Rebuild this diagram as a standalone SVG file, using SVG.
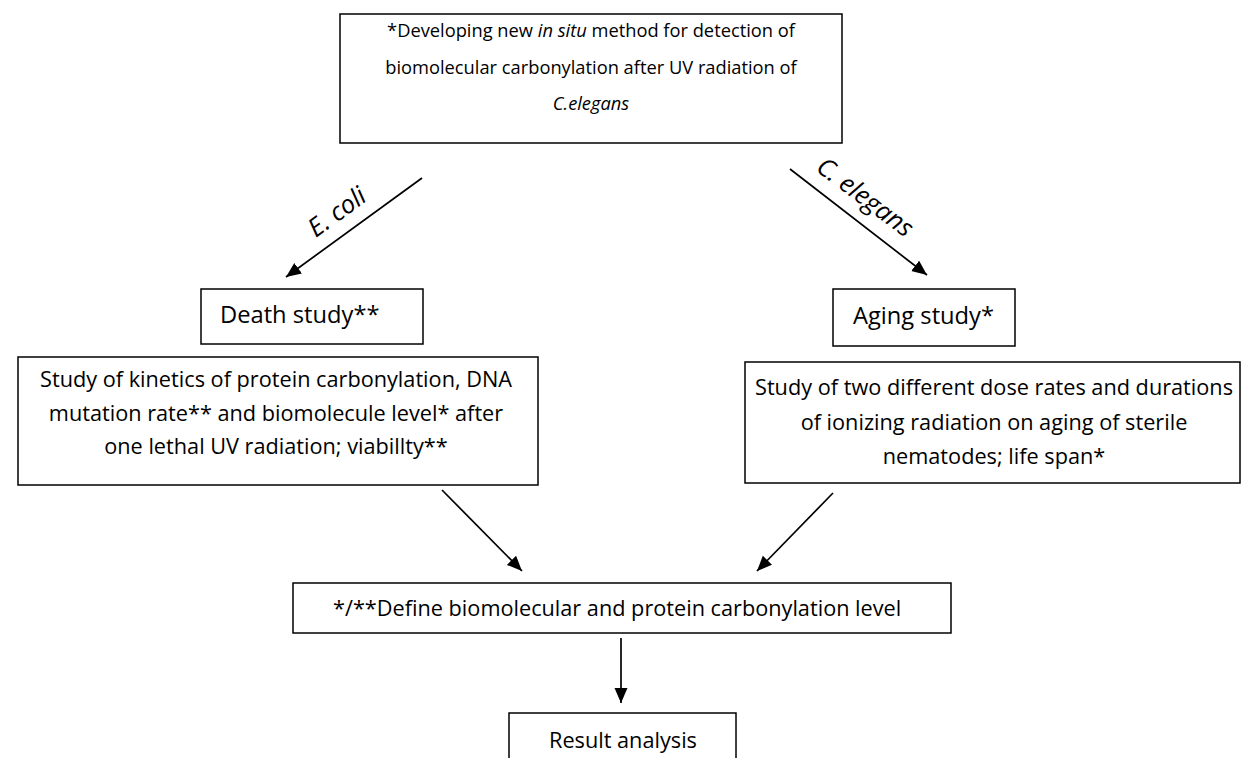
<svg xmlns="http://www.w3.org/2000/svg" width="1252" height="758" viewBox="0 0 1252 758">
<defs>
<style>
.box{fill:#fff;stroke:#000;stroke-width:1.5}
.t{font-family:"Open Sans","Liberation Sans",sans-serif;font-size:21.7px;fill:#000}
.th{font-family:"Open Sans","Liberation Sans",sans-serif;font-size:23.7px;fill:#000}
.tt{font-family:"Open Sans","Liberation Sans",sans-serif;font-size:18.3px;fill:#000}
.lbl{font-family:"Open Sans","Liberation Sans",sans-serif;font-size:25.5px;font-style:italic;fill:#000}
.c{stroke:#000;stroke-width:1.7;fill:none}
</style>
<marker id="ah" markerUnits="userSpaceOnUse" markerWidth="16" markerHeight="14" refX="15" refY="6.5" orient="auto">
<path d="M0,0 L15,6.5 L0,13 z" fill="#000"/>
</marker>
</defs>
<rect width="1252" height="758" fill="#fff"/>
<g id="connectors">
<line class="c" x1="422" y1="178" x2="286" y2="277" marker-end="url(#ah)"/>
<line class="c" x1="790" y1="169" x2="927" y2="275" marker-end="url(#ah)"/>
<line class="c" x1="442" y1="490" x2="522" y2="571" marker-end="url(#ah)"/>
<line class="c" x1="833" y1="493" x2="757" y2="571" marker-end="url(#ah)"/>
<line class="c" x1="621" y1="638" x2="621" y2="703" marker-end="url(#ah)"/>
<text class="lbl" text-anchor="middle" transform="translate(342,219) rotate(-36)">E. coli</text>
<text class="lbl" text-anchor="middle" transform="translate(860,204) rotate(37)">C. elegans</text>
</g>
<g id="top">
<rect class="box" x="340" y="14" width="502" height="129"/>
<text class="tt" x="591" y="37" text-anchor="middle">*Developing new <tspan font-style="italic">in situ</tspan> method for detection of</text>
<text class="tt" x="591" y="74" text-anchor="middle">biomolecular carbonylation after UV radiation of</text>
<text class="tt" x="591" y="110" text-anchor="middle" font-style="italic">C.elegans</text>
</g>
<g id="death">
<rect class="box" x="201" y="289" width="222" height="55"/>
<text class="th" x="220" y="323">Death study**</text>
</g>
<g id="aging">
<rect class="box" x="833" y="289" width="182" height="57"/>
<text class="th" x="853" y="324">Aging study*</text>
</g>
<g id="death-detail">
<rect class="box" x="18" y="357" width="520" height="128"/>
<text class="t" x="276" y="387" text-anchor="middle">Study of kinetics of protein carbonylation, DNA</text>
<text class="t" x="276" y="421" text-anchor="middle">mutation rate** and biomolecule level* after</text>
<text class="t" x="276" y="454" text-anchor="middle">one lethal UV radiation; viabillty**</text>
</g>
<g id="aging-detail">
<rect class="box" x="745" y="362" width="495" height="121"/>
<text class="t" x="994" y="395" text-anchor="middle">Study of two different dose rates and durations</text>
<text class="t" x="994" y="430" text-anchor="middle">of ionizing radiation on aging of sterile</text>
<text class="t" x="994" y="464" text-anchor="middle">nematodes; life span*</text>
</g>
<g id="define">
<rect class="box" x="293" y="583" width="658" height="50"/>
<text class="t" x="333" y="616">*/**Define biomolecular and protein carbonylation level</text>
</g>
<g id="result">
<rect class="box" x="509" y="713" width="227" height="60"/>
<text class="t" x="623" y="748" text-anchor="middle">Result analysis</text>
</g>
</svg>
